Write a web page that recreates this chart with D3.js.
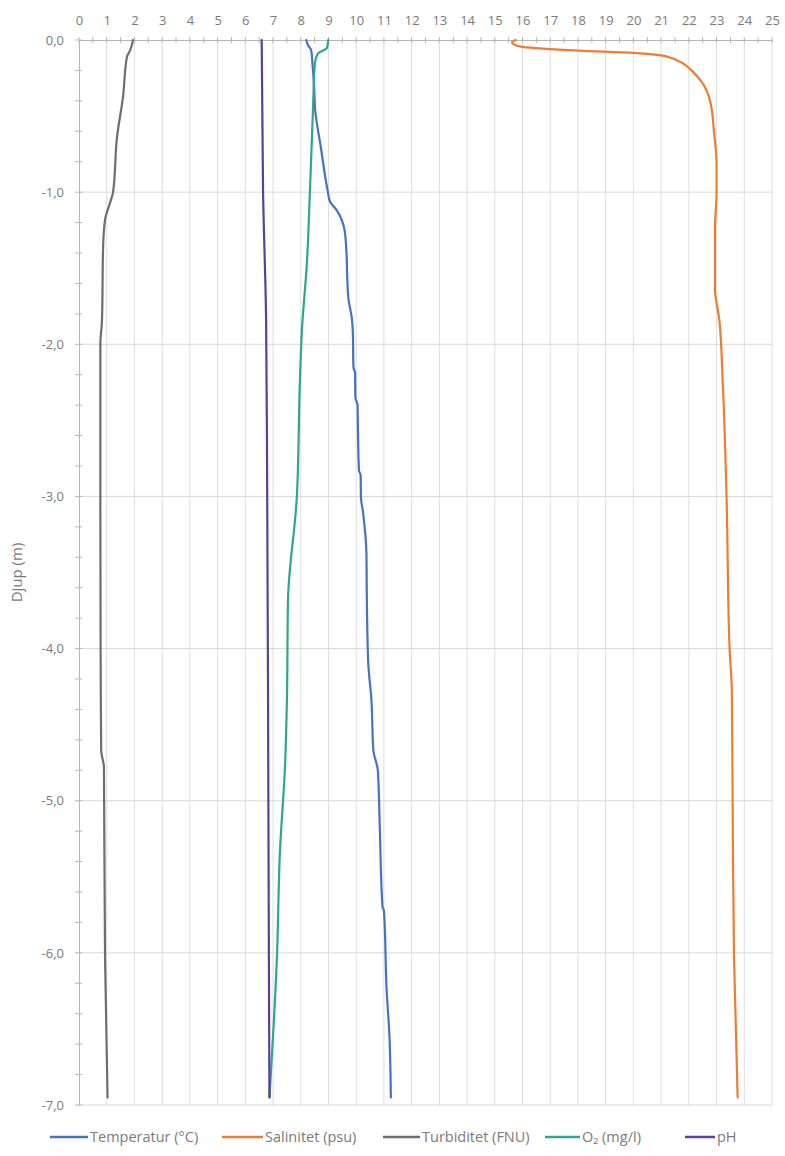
<!DOCTYPE html>
<html>
<head>
<meta charset="utf-8">
<script src="https://cdn.jsdelivr.net/npm/d3@7"></script>
<style>
  html, body { margin: 0; padding: 0; background: #fff; }
  svg { display: block; font-family: "Open Sans", Lato, sans-serif; }
</style>
</head>
<body>
<svg id="chart" width="785" height="1156"></svg>
<script>
// Depth profiles (depth in m below surface) for each measured parameter
const tempDepth  = [0.00, 0.03, 0.07, 0.15, 0.30, 0.46, 0.70, 1.00, 1.06, 1.12, 1.25, 1.40, 1.58, 1.70, 1.84, 1.93, 2.15, 2.19, 2.35, 2.40, 2.52, 2.83, 2.86, 3.00, 3.11, 3.38, 3.60, 4.08, 4.34, 4.67, 4.80, 5.17, 5.70, 5.72, 6.25, 6.55, 6.95];
const tempValue  = [8.20, 8.25, 8.38, 8.42, 8.48, 8.52, 8.72, 8.98, 9.05, 9.30, 9.58, 9.65, 9.68, 9.72, 9.85, 9.88, 9.90, 9.96, 9.97, 10.05, 10.06, 10.10, 10.16, 10.17, 10.25, 10.37, 10.38, 10.43, 10.55, 10.62, 10.78, 10.85, 10.95, 11.00, 11.10, 11.20, 11.25];

const salDepth   = [0.000, 0.015, 0.030, 0.045, 0.070, 0.085, 0.100, 0.120, 0.150, 0.200, 0.250, 0.300, 0.370, 0.450, 0.590, 0.810, 1.000, 1.250, 1.640, 1.750, 1.840, 2.240, 3.000, 4.000, 4.270, 5.020, 6.030, 6.950];
const salValue   = [15.75, 15.62, 15.70, 16.00, 18.05, 20.00, 20.95, 21.40, 21.75, 22.10, 22.35, 22.55, 22.72, 22.82, 22.90, 23.00, 23.00, 22.94, 22.94, 23.02, 23.10, 23.22, 23.36, 23.47, 23.55, 23.58, 23.63, 23.76];

const turbDepth  = [0.00, 0.07, 0.11, 0.37, 0.64, 1.00, 1.07, 1.18, 1.36, 1.84, 2.00, 3.00, 4.00, 4.67, 4.78, 6.03, 6.95];
const turbValue  = [1.95, 1.84, 1.73, 1.59, 1.37, 1.23, 1.12, 0.94, 0.87, 0.83, 0.77, 0.77, 0.78, 0.80, 0.90, 0.94, 1.03];

const oxyDepth   = [0.00, 0.05, 0.09, 0.15, 0.46, 1.00, 1.47, 1.91, 2.24, 3.00, 3.68, 4.34, 4.78, 5.33, 6.03, 6.95];
const oxyValue   = [8.99, 8.95, 8.62, 8.51, 8.44, 8.33, 8.22, 8.04, 7.97, 7.86, 7.54, 7.50, 7.43, 7.25, 7.14, 6.87];

const phDepth    = [0.00, 1.00, 1.84, 3.00, 4.34, 6.03, 6.95];
const phValue    = [6.59, 6.64, 6.75, 6.79, 6.82, 6.85, 6.87];

const seriesNames  = ["Temperatur (°C)", "Salinitet (psu)", "Turbiditet (FNU)", "O₂ (mg/l)", "pH"];
const seriesColors = ["#4472C4", "#ED7D31", "#6e6e6e", "#2FA592", "#5B3E9E"];

const xTicks = d3.range(0, 26, 1);
const yTicks = [0, -1, -2, -3, -4, -5, -6, -7];

const series = [
  { depth: tempDepth, value: tempValue },
  { depth: salDepth,  value: salValue },
  { depth: turbDepth, value: turbValue },
  { depth: oxyDepth,  value: oxyValue },
  { depth: phDepth,   value: phValue }
];

const svg = d3.select("#chart");
const plotLeft = 79, plotRight = 772, plotTop = 40, plotBottom = 1105;

const x = d3.scaleLinear().domain([0, 25]).range([plotLeft, plotRight]);
const y = d3.scaleLinear().domain([0, -7]).range([plotTop, plotBottom]);

const grey = "#7a7a7a";

// vertical gridlines
svg.append("g").selectAll("line").data(xTicks.filter(d => d > 0)).join("line")
  .attr("x1", d => x(d)).attr("x2", d => x(d))
  .attr("y1", plotTop).attr("y2", plotBottom)
  .attr("stroke", "#dedede").attr("stroke-width", 1);

// horizontal gridlines
svg.append("g").selectAll("line").data(yTicks.filter(d => d < 0)).join("line")
  .attr("x1", plotLeft).attr("x2", plotRight)
  .attr("y1", d => y(d)).attr("y2", d => y(d))
  .attr("stroke", "#d8d8d8").attr("stroke-width", 1);

// top axis (values), with minor ticks every 0.5
const xAxis = d3.axisTop(x).tickValues(xTicks).tickFormat(d3.format("d")).tickSize(0).tickPadding(15);
const gx = svg.append("g").attr("transform", `translate(0,${plotTop})`).call(xAxis);
gx.select(".domain").attr("stroke", "#b5b5b5");
gx.selectAll("text").attr("fill", grey).attr("font-size", 13).attr("font-family", "'Open Sans', sans-serif");
svg.append("g").selectAll("line").data(d3.range(0, 25.01, 0.5)).join("line")
  .attr("x1", d => x(d)).attr("x2", d => x(d))
  .attr("y1", plotTop - 3).attr("y2", plotTop + 3)
  .attr("stroke", "#b5b5b5");

// left axis (depth), with minor ticks every 0.2 m; decimal comma, ASCII minus
const fmt = d => (d === 0 ? "0,0" : d3.format(".1f")(d).replace(".", ",").replace("\u2212", "-"));
const yAxis = d3.axisLeft(y).tickValues(yTicks).tickFormat(fmt).tickSize(0).tickPadding(15);
const gy = svg.append("g").attr("transform", `translate(${plotLeft},0)`).call(yAxis);
gy.select(".domain").attr("stroke", "#b5b5b5");
gy.selectAll("text").attr("fill", grey).attr("font-size", 13).attr("font-family", "'Open Sans', sans-serif");
svg.append("g").selectAll("line").data(d3.range(0, -7.001, -0.2)).join("line")
  .attr("x1", plotLeft - 4).attr("x2", plotLeft + 3)
  .attr("y1", d => y(d)).attr("y2", d => y(d))
  .attr("stroke", "#b5b5b5");

// axis title
svg.append("text")
  .attr("transform", `translate(22,${(plotTop + plotBottom) / 2}) rotate(-90)`)
  .attr("text-anchor", "middle")
  .attr("fill", grey).attr("font-size", 15)
  .text("Djup (m)");

// profile lines
const line = d3.line()
  .x(d => x(d[1]))
  .y(d => y(-d[0]))
  .curve(d3.curveMonotoneY);

series.forEach((s, i) => {
  const pts = s.depth.map((dp, k) => [dp, s.value[k]]);
  svg.append("path")
    .datum(pts)
    .attr("d", line)
    .attr("fill", "none")
    .attr("stroke", seriesColors[i])
    .attr("stroke-width", 2.2)
    .attr("stroke-linejoin", "round")
    .attr("stroke-linecap", "round");
});

// legend
const legendX = [50, 222, 383, 545, 685];
const legendLen = [38, 41, 37, 35, 30];
const legendY = 1137;
const lg = svg.append("g");
seriesNames.forEach((name, i) => {
  lg.append("line")
    .attr("x1", legendX[i]).attr("x2", legendX[i] + legendLen[i])
    .attr("y1", legendY).attr("y2", legendY)
    .attr("stroke", seriesColors[i]).attr("stroke-width", 2.5);
  lg.append("text")
    .attr("x", legendX[i] + legendLen[i] + 2).attr("y", legendY + 5)
    .attr("fill", grey).attr("font-size", 14.5)
    .text(name);
});
</script>
</body>
</html>
